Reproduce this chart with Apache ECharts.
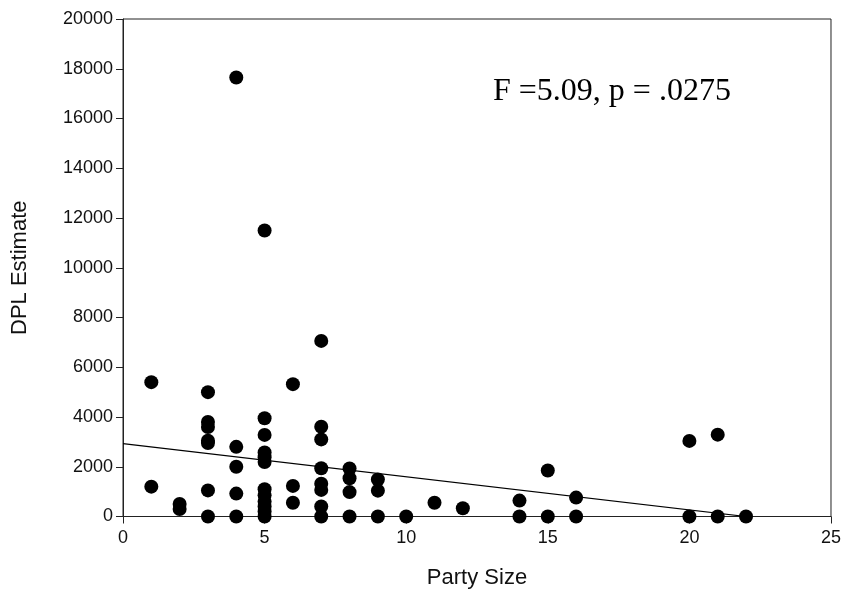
<!DOCTYPE html>
<html>
<head>
<meta charset="utf-8">
<script src="https://cdn.jsdelivr.net/npm/echarts@6/dist/echarts.min.js"></script>
<style>html,body{margin:0;padding:0;background:#fff;}#c{width:844px;height:606px;}</style>
</head>
<body>
<div id="c"></div>
<script>
const partySize = [1,1, 2,2, 3,3,3,3,3,3,3, 4,4,4,4,4, 5,5,5,5,5,5,5,5,5,5,5,5, 6,6,6, 7,7,7,7,7,7,7,7, 8,8,8,8, 9,9,9, 10, 11, 12, 14,14, 15,15, 16,16, 20,20, 21,21, 22];
const dplEstimate = [5400,1200, 500,300, 5000,3800,3600,3050,2950,1050,0, 17650,2800,2000,920,0, 11500,3950,3280,2570,2380,2190,1100,850,600,400,200,0, 5320,1230,550, 7060,3610,3100,1940,1320,1070,400,0, 1930,1540,980,0, 1490,1040,0, 0, 550, 330, 640,0, 1850,0, 760,0, 3040,0, 3290,0, 0];
const fitX = [0, 22];
const fitY = [2930, 0];
const xTicks = [0, 5, 10, 15, 20, 25];
const yTicks = [0, 2000, 4000, 6000, 8000, 10000, 12000, 14000, 16000, 18000, 20000];
const annotation = 'F =5.09, p = .0275';

const pts = partySize.map((x, i) => [x, dplEstimate[i]]);
const fit = fitX.map((x, i) => [x, fitY[i]]);

const chart = echarts.init(document.getElementById('c'));
const font = 'Liberation Sans, Arial, sans-serif';
chart.setOption({
  animation: false,
  backgroundColor: '#fff',
  grid: { left: 123, right: 12, top: 19, bottom: 89.5, show: true, borderColor: '#222', borderWidth: 1, backgroundColor: 'transparent' },
  xAxis: {
    type: 'value', min: xTicks[0], max: xTicks[xTicks.length - 1], interval: 5,
    name: 'Party Size', nameLocation: 'middle', nameGap: 50,
    nameTextStyle: { fontFamily: font, fontSize: 22, color: '#111' },
    axisLine: { show: true, lineStyle: { color: '#222', width: 1 } },
    axisTick: { show: true, inside: false, length: 7, lineStyle: { color: '#222' } },
    axisLabel: { fontFamily: font, fontSize: 18, color: '#111', margin: 13, formatter: v => String(v) },
    splitLine: { show: false }
  },
  yAxis: {
    type: 'value', min: yTicks[0], max: yTicks[yTicks.length - 1], interval: 2000,
    name: 'DPL Estimate', nameLocation: 'middle', nameGap: 92, nameRotate: 90,
    nameTextStyle: { fontFamily: font, fontSize: 22, color: '#111' },
    axisLine: { show: true, lineStyle: { color: '#222', width: 1 } },
    axisTick: { show: true, inside: false, length: 7, lineStyle: { color: '#222' } },
    axisLabel: { fontFamily: font, fontSize: 18, color: '#111', margin: 10, formatter: v => String(v) },
    splitLine: { show: false }
  },
  series: [
    { type: 'line', data: fit, symbol: 'none', lineStyle: { color: '#000', width: 1.2 }, z: 2 },
    { type: 'scatter', data: pts, symbol: 'circle', symbolSize: 14, itemStyle: { color: '#000', opacity: 1 }, z: 3 }
  ],
  graphic: [
    { type: 'text', left: 493, top: 76, style: { text: annotation, font: '32px "Liberation Serif", "Times New Roman", serif', fill: '#000' } }
  ]
});
</script>
</body>
</html>
